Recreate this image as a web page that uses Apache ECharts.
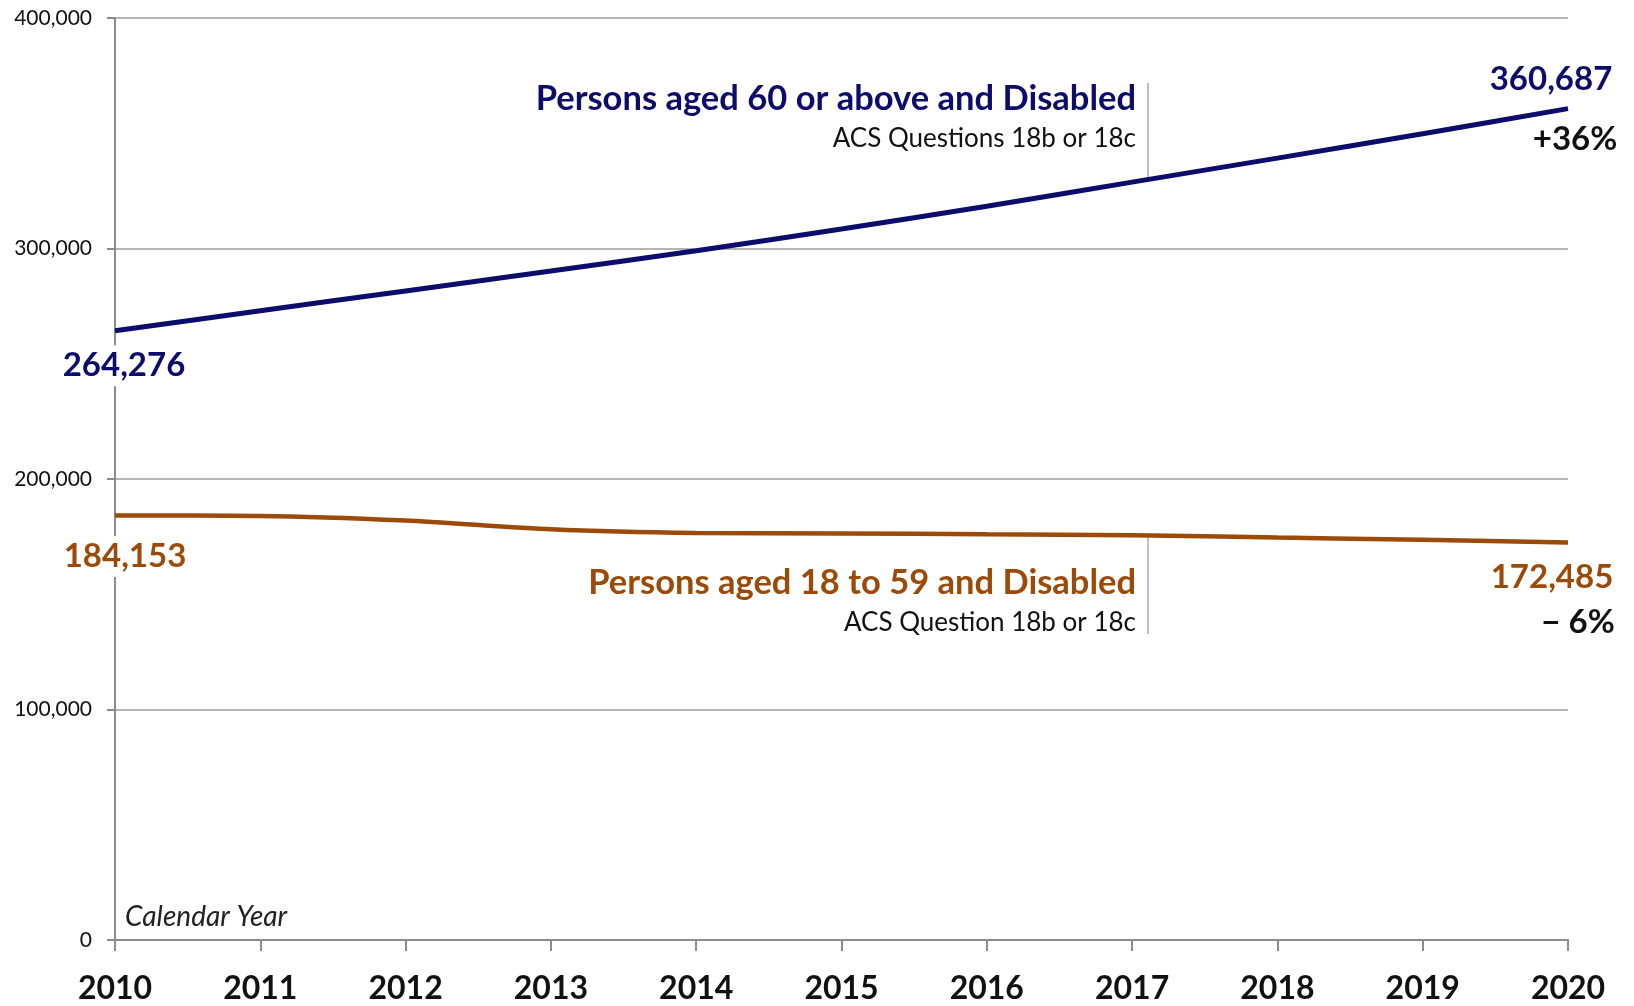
<!DOCTYPE html>
<html>
<head>
<meta charset="utf-8">
<title>Disabled persons by age group, 2010–2020</title>
<script src="https://cdn.jsdelivr.net/npm/echarts@6/dist/echarts.min.js"></script>
<style>
  html, body { margin: 0; padding: 0; background: #fff; }
  #chart { width: 1634px; height: 1006px; }
</style>
</head>
<body>
<div id="chart"></div>
<script>
// Calendar years on the x axis
const years = ['2010', '2011', '2012', '2013', '2014', '2015', '2016', '2017', '2018', '2019', '2020'];

// Persons aged 60 or above and disabled
const aged60Plus = [264276, 273000, 281600, 290200, 299000, 308500, 318300, 328800, 339200, 349800, 360687];

// Persons aged 18 to 59 and disabled
const aged18to59 = [184153, 184000, 182000, 178200, 176600, 176400, 176000, 175600, 174600, 173600, 172485];

// Value axis ticks
const yTicks = [0, 100000, 200000, 300000, 400000];

const NAVY = '#0c0c6c';
const RUST = '#9c4a08';
const FONT = 'Lato, "Open Sans", sans-serif';

const fmt = v => Math.round(v).toLocaleString('en-US');
function pctChange(arr) {
  const p = Math.round((arr[arr.length - 1] / arr[0] - 1) * 100);
  return (p >= 0 ? '+' : '\u2212 ') + Math.abs(p) + '%';
}

function endLabel(cat, val, text, color, offset, bg) {
  return {
    coord: [cat, val],
    value: val,
    symbol: 'circle',
    symbolSize: 0,
    label: {
      show: true,
      position: 'inside',
      offset: offset,
      formatter: text,
      color: color,
      fontFamily: FONT,
      fontWeight: 'bold',
      fontSize: 33,
      backgroundColor: bg ? '#ffffff' : 'transparent',
      padding: bg ? [4, 6] : 0
    }
  };
}

const last = years.length - 1;

const chart = echarts.init(document.getElementById('chart'), null, { renderer: 'canvas' });

chart.setOption({
  animation: false,
  backgroundColor: '#ffffff',
  grid: { left: 115, right: 66, top: 18, bottom: 66, containLabel: false },
  xAxis: {
    type: 'category',
    data: years,
    boundaryGap: false,
    axisLine: { show: true, lineStyle: { color: '#8c8c8c', width: 2 } },
    axisTick: { show: true, alignWithLabel: true, interval: 0, length: 11, lineStyle: { color: '#8c8c8c', width: 2 } },
    axisLabel: {
      interval: 0,
      margin: 33,
      color: '#111',
      fontFamily: FONT,
      fontWeight: 'bold',
      fontSize: 32
    },
    splitLine: { show: false }
  },
  yAxis: {
    type: 'value',
    min: yTicks[0],
    max: yTicks[yTicks.length - 1],
    interval: yTicks[1] - yTicks[0],
    axisLine: { show: true, lineStyle: { color: '#8c8c8c', width: 2 } },
    axisTick: { show: true, length: 8, lineStyle: { color: '#8c8c8c', width: 2 } },
    axisLabel: {
      margin: 23,
      color: '#111',
      fontFamily: FONT,
      fontSize: 21,
      formatter: v => fmt(v)
    },
    splitLine: { show: true, lineStyle: { color: '#b4b4b4', width: 2 } }
  },
  series: [
    {
      name: 'Persons aged 60 or above and Disabled',
      type: 'line',
      data: aged60Plus,
      smooth: 0.25,
      showSymbol: false,
      lineStyle: { color: NAVY, width: 5 },
      itemStyle: { color: NAVY },
      z: 3,
      markPoint: {
        silent: true,
        data: [
          endLabel(years[0], aged60Plus[0], fmt(aged60Plus[0]), NAVY, [9, 35], true),
          endLabel(years[last], aged60Plus[last], fmt(aged60Plus[last]), NAVY, [-17, -29], false),
          endLabel(years[last], aged60Plus[last], pctChange(aged60Plus), '#111', [7, 31], false)
        ]
      }
    },
    {
      name: 'Persons aged 18 to 59 and Disabled',
      type: 'line',
      data: aged18to59,
      smooth: 0.25,
      showSymbol: false,
      lineStyle: { color: RUST, width: 4.5 },
      itemStyle: { color: RUST },
      z: 3,
      markPoint: {
        silent: true,
        data: [
          endLabel(years[0], aged18to59[0], fmt(aged18to59[0]), RUST, [10, 41], true),
          endLabel(years[last], aged18to59[last], fmt(aged18to59[last]), RUST, [-16, 35], false),
          endLabel(years[last], aged18to59[last], pctChange(aged18to59), '#111', [10, 80], false)
        ]
      }
    }
  ],
  graphic: [
    // series captions with leader lines
    { type: 'line', shape: { x1: 1148, y1: 83, x2: 1148, y2: 178 }, style: { stroke: '#aaaaaa', lineWidth: 1.5 } },
    { type: 'text', x: 1136, y: 99, style: { text: 'Persons aged 60 or above and Disabled', fill: NAVY, font: 'bold 34.5px ' + FONT, textAlign: 'right', textVerticalAlign: 'middle' } },
    { type: 'text', x: 1136, y: 139, style: { text: 'ACS Questions 18b or 18c', fill: '#111', font: '26px ' + FONT, textAlign: 'right', textVerticalAlign: 'middle' } },
    { type: 'line', shape: { x1: 1148, y1: 537, x2: 1148, y2: 634 }, style: { stroke: '#aaaaaa', lineWidth: 1.5 } },
    { type: 'text', x: 1136, y: 583, style: { text: 'Persons aged 18 to 59 and Disabled', fill: RUST, font: 'bold 34.5px ' + FONT, textAlign: 'right', textVerticalAlign: 'middle' } },
    { type: 'text', x: 1136, y: 623, style: { text: 'ACS Question 18b or 18c', fill: '#111', font: '26px ' + FONT, textAlign: 'right', textVerticalAlign: 'middle' } },
    // x axis caption inside the plot
    { type: 'text', x: 125, y: 917, style: { text: 'Calendar Year', fill: '#222', font: 'italic 28px ' + FONT, textAlign: 'left', textVerticalAlign: 'middle' } }
  ]
});
</script>
</body>
</html>
